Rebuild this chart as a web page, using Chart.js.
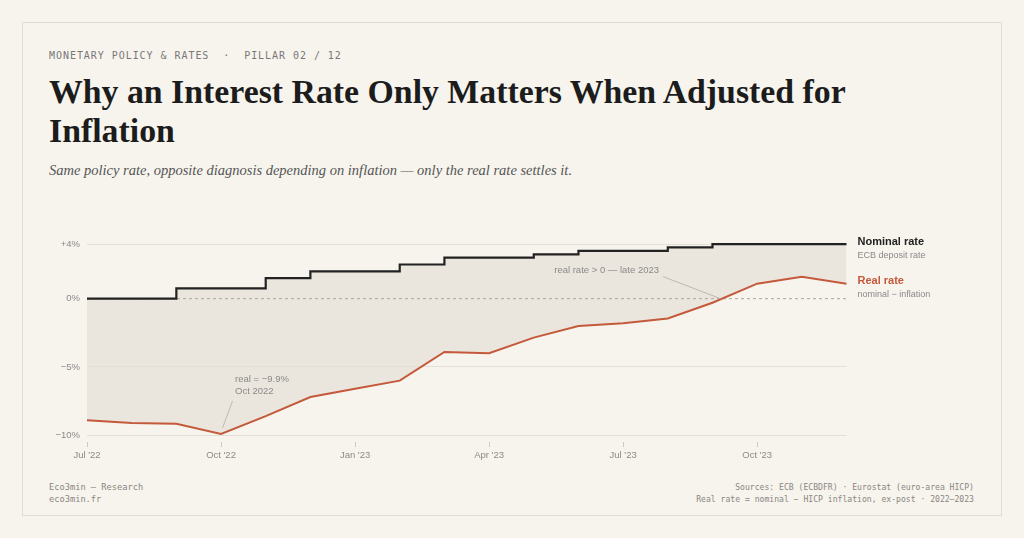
<!DOCTYPE html>
<html>
<head>
<meta charset="utf-8">
<script src="https://cdn.jsdelivr.net/npm/chart.js@4.4.1/dist/chart.umd.min.js"></script>
<style>
  html, body { margin: 0; padding: 0; background: #f7f4ee; }
  body { width: 1024px; height: 538px; position: relative; overflow: hidden; }
  .card { position: absolute; left: 22px; top: 22px; width: 978px; height: 492px; border: 1px solid #e2ddd0; }
  .kicker { position: absolute; left: 49px; top: 50px; font: 10px/12px "DejaVu Sans Mono", monospace; letter-spacing: 0.095em; color: #777; white-space: pre; }
  .title { position: absolute; left: 49px; top: 72px; width: 900px; font: bold 33.8px/39px "Liberation Serif", "Times New Roman", serif; color: #1c1c1c; }
  .sub { position: absolute; left: 49px; top: 159.5px; font: italic 14.5px/20px "Liberation Serif", serif; color: #555; white-space: nowrap; }
  .foot { position: absolute; font-family: "DejaVu Sans Mono", monospace; color: #8a867e; white-space: pre; }
  .foot.l { left: 49px; top: 482px; font-size: 8.7px; line-height: 11.7px; }
  .foot.r { right: 50px; top: 482px; font-size: 8.1px; line-height: 11.7px; text-align: right; }
  .wrap { position: absolute; left: 0; top: 200px; width: 1024px; height: 280px; }
</style>
</head>
<body>
<div class="card"></div>
<div class="kicker">MONETARY POLICY &amp; RATES  ·  PILLAR 02 / 12</div>
<div class="title">Why an Interest Rate Only Matters When Adjusted for Inflation</div>
<div class="sub">Same policy rate, opposite diagnosis depending on inflation — only the real rate settles it.</div>
<div class="foot l">Eco3min — Research
eco3min.fr</div>
<div class="foot r">Sources: ECB (ECBDFR) · Eurostat (euro-area HICP)
Real rate = nominal − HICP inflation, ex-post · 2022–2023</div>
<div class="wrap"><canvas id="chart"></canvas></div>

<script>
// monthly, Jul 2022 - Dec 2023
const months = ['Jul 2022', 'Aug 2022', 'Sep 2022', 'Oct 2022', 'Nov 2022', 'Dec 2022',
  'Jan 2023', 'Feb 2023', 'Mar 2023', 'Apr 2023', 'May 2023', 'Jun 2023',
  'Jul 2023', 'Aug 2023', 'Sep 2023', 'Oct 2023', 'Nov 2023', 'Dec 2023'];
const xTickLabels = ["Jul '22", "Oct '22", "Jan '23", "Apr '23", "Jul '23", "Oct '23"];

// ECB deposit rate, % (end of month)
const nominalRate = [0, 0, 0.75, 0.75, 1.5, 2.0, 2.0, 2.5, 3.0, 3.0, 3.25, 3.5, 3.5, 3.75, 4.0, 4.0, 4.0, 4.0];
// nominal minus HICP inflation, %
const realRate = [-8.9, -9.1, -9.15, -9.9, -8.6, -7.2, -6.6, -6.0, -3.9, -4.0, -2.85, -2.0, -1.8, -1.45, -0.3, 1.1, 1.6, 1.1];

const yTickValues = [4, 0, -5, -10];
const yTickLabels = ['+4%', '0%', '−5%', '−10%'];

const SANS = '"Liberation Sans", Arial, sans-serif';
const INK = '#222222';
const RUST = '#c4593b';
const MUTED = '#8a8a8a';

const overlay = {
  id: 'overlay',
  beforeDatasetsDraw(chart) {
    const { ctx, chartArea } = chart;
    const y0 = chart.scales.y.getPixelForValue(0);
    ctx.save();
    ctx.strokeStyle = '#aaa69e';
    ctx.lineWidth = 1;
    ctx.setLineDash([3, 3]);
    ctx.beginPath();
    ctx.moveTo(chartArea.left, y0);
    ctx.lineTo(chartArea.right, y0);
    ctx.stroke();
    ctx.restore();
  },
  afterDraw(chart) {
    const { ctx, chartArea } = chart;
    const x = chart.scales.x, y = chart.scales.y;
    ctx.save();

    // end labels
    const lx = chartArea.right + 11;
    const yn = y.getPixelForValue(nominalRate[nominalRate.length - 1]);
    const yr = y.getPixelForValue(realRate[realRate.length - 1]);
    ctx.textBaseline = 'alphabetic';
    ctx.textAlign = 'left';
    ctx.font = 'bold 11px ' + SANS;
    ctx.fillStyle = INK;
    ctx.fillText('Nominal rate', lx, yn + 1);
    ctx.fillStyle = RUST;
    ctx.fillText('Real rate', lx, yr + 0.6);
    ctx.font = '9px ' + SANS;
    ctx.fillStyle = MUTED;
    ctx.fillText('ECB deposit rate', lx, yn + 14);
    ctx.fillText('nominal − inflation', lx, yr + 13.6);

    // trough annotation
    let iMin = 0;
    realRate.forEach((v, i) => { if (v < realRate[iMin]) iMin = i; });
    const px = x.getPixelForValue(iMin), py = y.getPixelForValue(realRate[iMin]);
    ctx.strokeStyle = '#bdb9b1';
    ctx.lineWidth = 1;
    ctx.beginPath();
    ctx.moveTo(px + 1.5, py - 6);
    ctx.lineTo(px + 11.5, py - 33);
    ctx.stroke();
    ctx.font = '9.5px ' + SANS;
    ctx.fillStyle = MUTED;
    ctx.fillText('real = −9.9%', px + 14, py - 52);
    ctx.fillText('Oct 2022', px + 14, py - 39.5);

    // zero crossing annotation
    let k = realRate.findIndex((v, i) => i > 0 && realRate[i - 1] < 0 && v >= 0);
    const t = -realRate[k - 1] / (realRate[k] - realRate[k - 1]);
    const cx = x.getPixelForValue(k - 1) + t * (x.getPixelForValue(k) - x.getPixelForValue(k - 1));
    const cy = y.getPixelForValue(0);
    ctx.beginPath();
    ctx.moveTo(cx - 1.5, cy);
    ctx.lineTo(cx - 59, cy - 22);
    ctx.stroke();
    ctx.textAlign = 'right';
    ctx.fillText('real rate > 0 — late 2023', cx - 63, cy - 26);
    ctx.restore();
  }
};

new Chart(document.getElementById('chart'), {
  type: 'line',
  data: {
    labels: months,
    datasets: [{
      label: 'Nominal rate',
      data: nominalRate,
      stepped: true,
      borderColor: INK,
      borderWidth: 2.2,
      pointRadius: 0,
      fill: '+1',
      backgroundColor: 'rgba(214, 207, 194, 0.4)'
    }, {
      label: 'Real rate',
      data: realRate,
      borderColor: RUST,
      borderWidth: 2,
      pointRadius: 0,
      tension: 0,
      fill: false
    }]
  },
  options: {
    responsive: true,
    maintainAspectRatio: false,
    animation: false,
    layout: { padding: { left: 0, right: 177.5, top: 37.2, bottom: 0 } },
    plugins: {
      legend: { display: false },
      tooltip: { enabled: false },
      filler: { drawTime: 'beforeDraw' }
    },
    scales: {
      x: {
        type: 'category',
        offset: false,
        afterFit(s) { s.height = 37.9; },
        border: { display: false },
        grid: { drawOnChartArea: false, drawTicks: true, tickLength: 5, color: '#cfcac0' },
        ticks: {
          autoSkip: false,
          maxRotation: 0,
          padding: 3,
          color: MUTED,
          font: { family: SANS, size: 9.5 },
          callback: (v, i) => (i % 3 === 0 ? xTickLabels[i / 3] : null)
        }
      },
      y: {
        min: -10.5,
        max: 4.5,
        afterFit(s) { s.width = 87; },
        afterBuildTicks(s) { s.ticks = yTickValues.map(v => ({ value: v })); },
        border: { display: false },
        grid: {
          drawTicks: false,
          color: c => (c.tick && c.tick.value === 0 ? 'rgba(0,0,0,0)' : '#e3dfd6')
        },
        ticks: {
          padding: 7,
          color: MUTED,
          font: { family: SANS, size: 9.5 },
          callback: v => yTickLabels[yTickValues.indexOf(v)]
        }
      }
    }
  },
  plugins: [overlay]
});
</script>
</body>
</html>
